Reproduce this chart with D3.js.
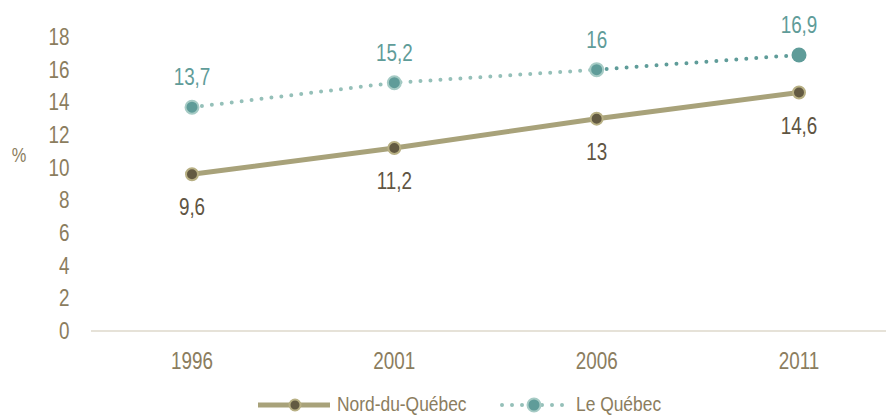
<!DOCTYPE html>
<html><head><meta charset="utf-8">
<script src="https://cdn.jsdelivr.net/npm/d3@7"></script>
<style>
body{margin:0;background:#fff;}
text{font-family:"Liberation Sans",Arial,sans-serif;}
</style></head><body>
<svg id="c" width="886" height="415"></svg>
<script>
const years = ["1996","2001","2006","2011"];
const nord = [9.6, 11.2, 13, 14.6];
const quebec = [13.7, 15.2, 16, 16.9];
const nordLabels = ["9,6","11,2","13","14,6"];
const quebecLabels = ["13,7","15,2","16","16,9"];
const yTicks = [0,2,4,6,8,10,12,14,16,18];
const seriesNames = ["Nord-du-Québec","Le Québec"];

const svg = d3.select("#c");
const x = d3.scalePoint().domain(years).range([192, 799]);
const y = d3.scaleLinear().domain([0,18]).range([331, 37]);
const tickCol = "#8b7d5e";

function txt(g, px, py, str, size, color, anchor, sx){
  return g.append("text")
    .attr("transform", `translate(${px},${py}) scale(${sx||0.82},1)`)
    .attr("text-anchor", anchor||"middle")
    .attr("fill", color).style("font-size", size+"px").text(str);
}

// axis baseline
svg.append("line").attr("x1",91).attr("x2",886).attr("y1",y(0)).attr("y2",y(0))
  .attr("stroke","#e6e2d8").attr("stroke-width",2);

// y ticks
const gy = svg.append("g");
yTicks.forEach(t => txt(gy, 69.5, y(t)+8, String(t), 23, tickCol, "end"));
// x ticks
const gx = svg.append("g");
years.forEach(yr => txt(gx, x(yr), 369, yr, 23, tickCol, "middle"));

txt(svg, 19, 161.5, "%", 20, tickCol, "middle");

const line = d3.line().x((d,i)=>x(years[i])).y(d=>y(d));

// Nord line
svg.append("path").datum(nord).attr("d",line).attr("fill","none")
  .attr("stroke","#a8a27a").attr("stroke-width",5);
// Quebec dotted: first segments lighter, last darker
svg.append("path").datum(quebec.slice(0,3)).attr("d",line).attr("fill","none")
  .attr("stroke","#95c0b9").attr("stroke-width",4).attr("stroke-linecap","round")
  .attr("stroke-dasharray","0 10");
const qLast = d3.line().x((d,i)=>x(years[i+2])).y(d=>y(d));
svg.append("path").datum(quebec.slice(2)).attr("d",qLast).attr("fill","none")
  .attr("stroke","#5f9c99").attr("stroke-width",4).attr("stroke-linecap","round")
  .attr("stroke-dasharray","0 10");

// markers
svg.selectAll(".nm").data(nord).enter().append("circle")
  .attr("cx",(d,i)=>x(years[i])).attr("cy",d=>y(d)).attr("r",6)
  .attr("fill","#635a42").attr("stroke","#b8b084").attr("stroke-width",2);
svg.selectAll(".qm").data(quebec).enter().append("circle")
  .attr("cx",(d,i)=>x(years[i])).attr("cy",d=>y(d)).attr("r",(d,i)=>i===3?7.5:6.5)
  .attr("fill","#5f9c99").attr("stroke",(d,i)=>i===3?"none":"#a6cbc5").attr("stroke-width",2);

// labels
const gl = svg.append("g");
nord.forEach((d,i)=>txt(gl, x(years[i]), y(d)+41, nordLabels[i], 23, "#5f5543", "middle"));
quebec.forEach((d,i)=>txt(gl, x(years[i]), y(d)-22, quebecLabels[i], 23, "#5f9c99", "middle"));

// legend
const lg = svg.append("g");
lg.append("line").attr("x1",258).attr("x2",330).attr("y1",405).attr("y2",405)
  .attr("stroke","#a8a27a").attr("stroke-width",5);
lg.append("circle").attr("cx",295).attr("cy",405).attr("r",5.5)
  .attr("fill","#635a42").attr("stroke","#b8b084").attr("stroke-width",2);
txt(lg, 337, 411, seriesNames[0], 20, tickCol, "start", 0.87);
lg.append("line").attr("x1",502).attr("x2",564).attr("y1",405).attr("y2",405)
  .attr("stroke","#95c0b9").attr("stroke-width",4).attr("stroke-linecap","round")
  .attr("stroke-dasharray","0 10");
lg.append("circle").attr("cx",534).attr("cy",405).attr("r",6.5)
  .attr("fill","#5f9c99").attr("stroke","#a6cbc5").attr("stroke-width",2);
txt(lg, 576, 411, seriesNames[1], 20, tickCol, "start", 0.87);
</script>
</body></html>
